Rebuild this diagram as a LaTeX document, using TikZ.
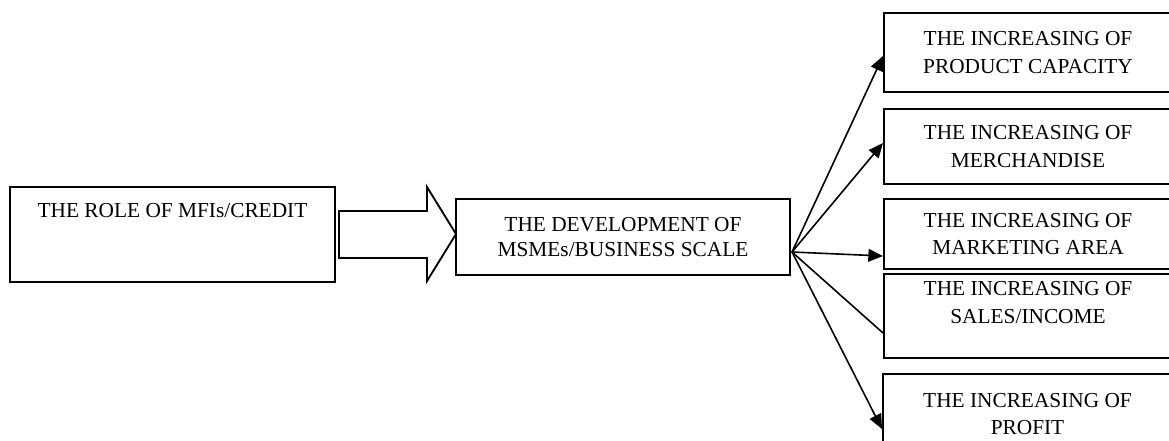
\documentclass[tikz,border=0pt]{standalone}
\usepackage{fontspec}
\setmainfont{Liberation Serif}
\usetikzlibrary{arrows.meta,calc}

\begin{document}
\begin{tikzpicture}[x=0.75pt,y=-0.75pt]
    \tikzset {
        box/.style = {draw, line width=1.5pt, inner sep=0pt, anchor=north west,
            align=center, font=\fontsize{16}{20.8}\selectfont},
        fan arrow/.style = {line width=1.2pt, -{Triangle[length=11pt,width=9.5pt]}},
        fan line/.style = {line width=1.2pt},
        block arrow/.style = {line width=1.4pt, line join=miter}
    }
    \useasboundingbox (0,0) rectangle (1169,441);

    % credit box, text sits at the top
    \node[box, minimum width=243.75pt, text height=23.25pt, text depth=48pt]
        (role) at (9,186) {THE ROLE OF MFIs/CREDIT};
    \node[box, minimum width=250.5pt, minimum height=57pt,
          font=\fontsize{16}{19.3}\selectfont]
        (devel) at (455,198) {THE DEVELOPMENT OF\\MSMEs/BUSINESS SCALE};

    % outcome boxes on the right
    \node[box, minimum width=216pt, minimum height=59.25pt]
        (prod) at (883,12) {THE INCREASING OF\\PRODUCT CAPACITY};
    \node[box, minimum width=216pt, minimum height=56.25pt]
        (merch) at (883,108) {THE INCREASING OF\\MERCHANDISE};
    \node[box, minimum width=216pt, minimum height=52.5pt]
        (mkt) at (883,198) {THE INCREASING OF\\MARKETING AREA};
    \node[box, minimum width=216pt, minimum height=63pt]
        (sales) at (883,273) {THE INCREASING OF\\SALES/INCOME\\\mbox{}};
    \node[box, minimum width=216.75pt, minimum height=60pt]
        (profit) at (882,373) {THE INCREASING OF\\PROFIT};

    % hollow arrow from credit to development
    \draw[block arrow] (339,211) -- (427,211) -- (427,187) -- (456,234)
        -- (427,281) -- (427,258) -- (339,258) -- cycle;

    % fan of arrows
    \coordinate (fan) at (792,252);
    \draw[fan arrow] (fan) -- ($(prod.west)+(0,3.5)$);
    \draw[fan arrow] (fan) -- ($(merch.west)+(0,-3.5)$);
    \draw[fan arrow] (fan) -- ($(mkt.west)+(0,22)$);
    \draw[fan line]  (fan) -- ($(sales.west)+(0,17)$);
    \draw[fan arrow] (fan) -- ($(profit.west)+(0,15)$);
\end{tikzpicture}
\end{document}
